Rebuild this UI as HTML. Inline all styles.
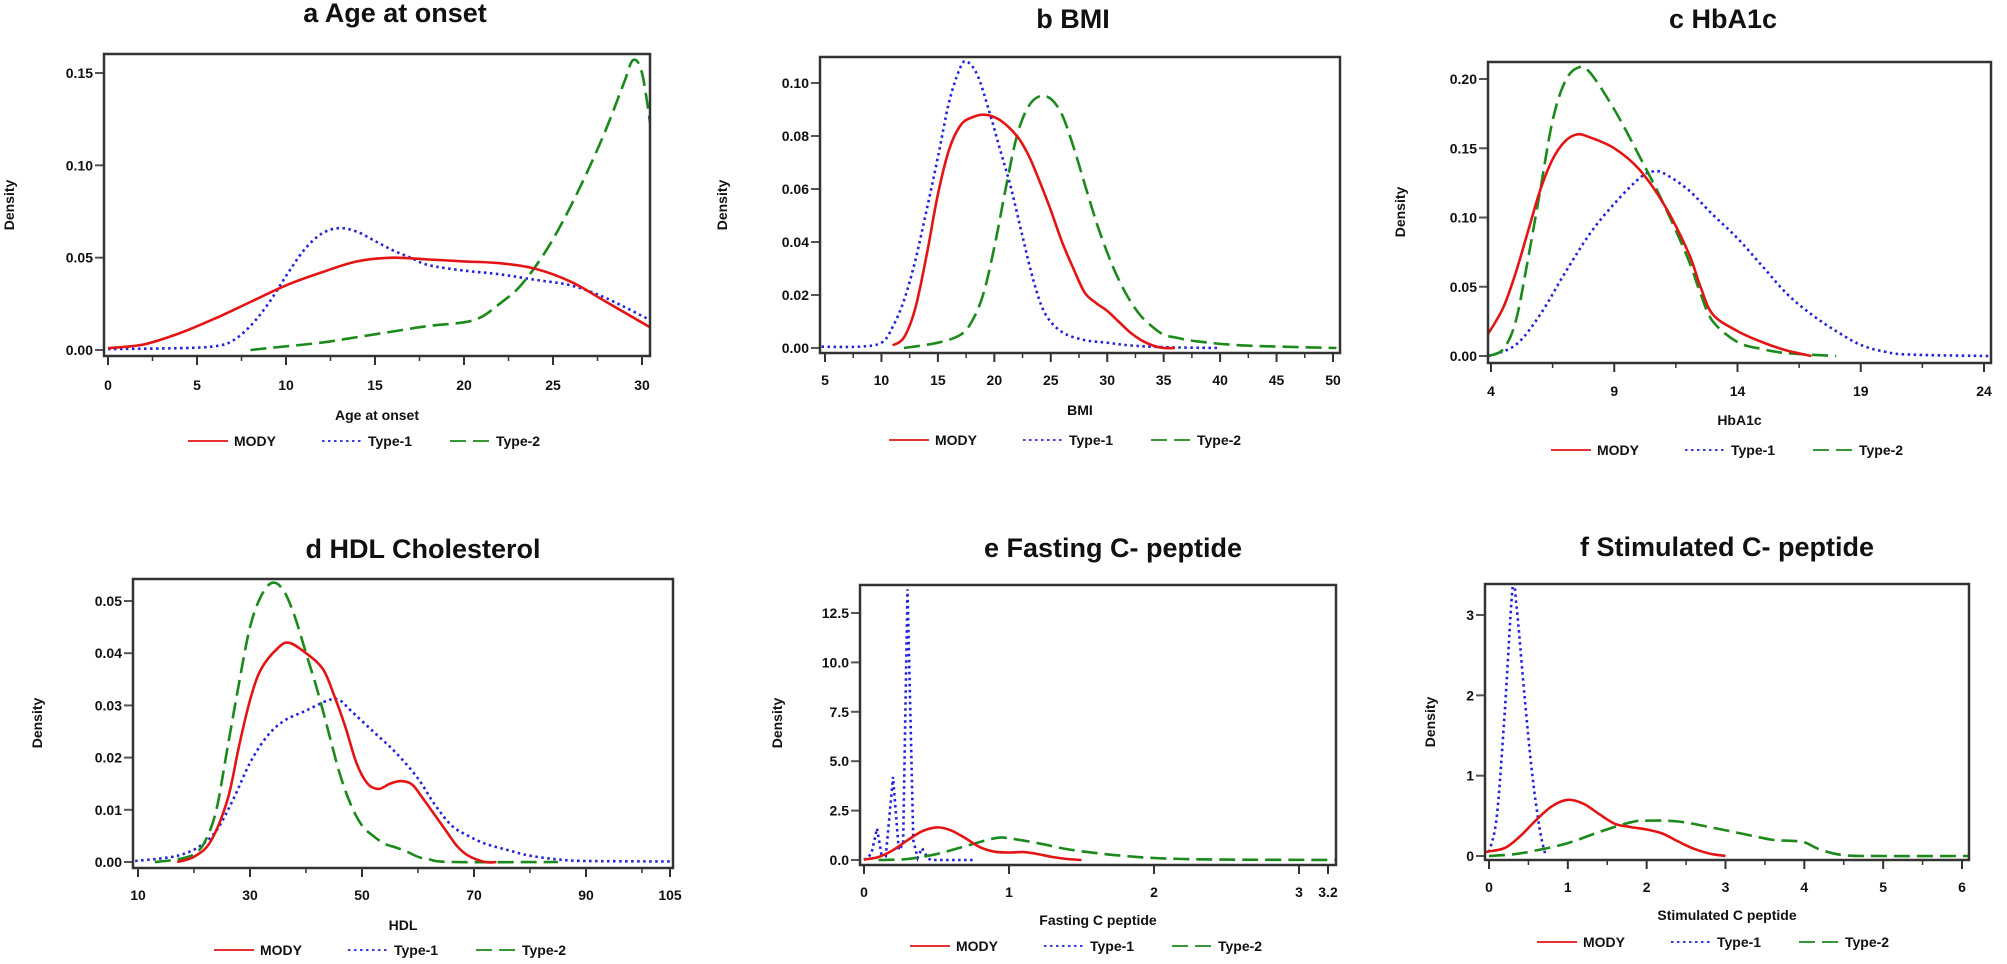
<!DOCTYPE html>
<html><head><meta charset="utf-8"><style>
html,body{margin:0;padding:0;background:#fff;}
svg{display:block;}
text{font-family:"Liberation Sans",Arial,sans-serif;font-weight:bold;fill:#111;}
</style></head><body>
<svg id="s" width="2007" height="964" viewBox="0 0 2007 964" xmlns="http://www.w3.org/2000/svg"></svg>
<script>
const P=[
{box:[104,54,650,356],xm:[0,108,30,642],ym:[350,73,0.15],yt:[[0,"0.00"],[0.05,"0.05"],[0.10,"0.10"],[0.15,"0.15"]],xt:[0,5,10,15,20,25,30],mn:2.5,xr:[0,30],
 title:"a Age at onset",tx:395,ty:22,xl:"Age at onset",xly:415,lby:385,lg:[378,441],dx:14,dy:205,
 red:[[0,.001],[2,.003],[4,.009],[6,.017],[8,.026],[10,.035],[12,.042],[14,.048],[16,.050],[18,.049],[20,.048],[22,.047],[24,.044],[26,.037],[28,.026],[30.5,.012]],
 blue:[[0,.0005],[4,.001],[6,.002],[7,.005],[8,.013],[9,.025],[10,.040],[11,.054],[12,.063],[13,.066],[14,.064],[15,.059],[16,.054],[17,.050],[18,.046],[20,.043],[22,.041],[24,.038],[26,.035],[28,.028],[30.5,.016]],
 green:[[8,0],[10,.002],[12,.004],[14,.007],[16,.010],[18,.013],[20,.015],[21,.018],[22,.025],[23,.033],[24,.045],[25,.060],[26,.078],[27,.098],[28,.12],[29,.145],[29.5,.157],[30,.15],[30.5,.12]]},
{box:[820,57,1340,353],xm:[5,825,50,1333],ym:[348,83,0.10],yt:[[0,"0.00"],[.02,"0.02"],[.04,"0.04"],[.06,"0.06"],[.08,"0.08"],[.10,"0.10"]],xt:[5,10,15,20,25,30,35,40,45,50],mn:2.5,xr:[5,50],
 title:"b BMI",tx:1073,ty:28,xl:"BMI",xly:410,lby:380,lg:[1079,440],dx:727,dy:205,
 blue:[[4.7,.0005],[8,.0005],[10,.002],[11,.008],[12,.018],[13,.033],[14,.052],[15,.072],[16,.093],[17,.106],[17.6,.108],[18.5,.103],[19.5,.090],[20.5,.075],[21.5,.060],[22.5,.042],[23.5,.025],[24.5,.013],[26,.006],[28,.003],[30,.002],[32,.001],[35,.0003],[40,0]],
 red:[[11,.001],[12,.004],[13,.015],[14,.035],[15,.058],[16,.075],[17,.084],[18,.087],[19.2,.088],[20.5,.086],[22,.080],[23,.073],[24,.063],[25,.052],[26,.040],[27,.030],[28,.021],[29,.017],[30,.014],[31,.010],[32,.006],[33,.003],[34,.001],[35,0],[36,0]],
 green:[[12,0],[15,.002],[17,.005],[18,.010],[19,.020],[20,.038],[21,.060],[22,.080],[23,.091],[24,.095],[25,.094],[26,.088],[27,.076],[28,.062],[29,.048],[30,.036],[31,.026],[32,.018],[33,.012],[34,.008],[35,.005],[36,.004],[38,.0025],[42,.001],[50.3,0]]},
{box:[1488,62,1991,363],xm:[4,1491,24,1984],ym:[356,79,0.20],yt:[[0,"0.00"],[.05,"0.05"],[.10,"0.10"],[.15,"0.15"],[.20,"0.20"]],xt:[4,9,14,19,24],mn:2.5,xr:[4,24],
 title:"c HbA1c",tx:1723,ty:28,xl:"HbA1c",xly:420,lby:391,lg:[1741,450],dx:1405,dy:212,
 red:[[3.85,.015],[4.5,.035],[5,.06],[5.5,.09],[6,.12],[6.5,.142],[7,.155],[7.5,.16],[8,.158],[9,.15],[10,.135],[11,.11],[12,.075],[12.5,.05],[13,.03],[14,.018],[15,.01],[16,.004],[17,0]],
 green:[[3.9,0],[4.5,.005],[5,.025],[5.5,.07],[6,.12],[6.5,.17],[7,.198],[7.5,.208],[8,.205],[9,.178],[10,.145],[11,.11],[12,.07],[12.5,.045],[13,.025],[14,.01],[15,.005],[16,.002],[18,0]],
 blue:[[3.9,0],[5,.008],[6,.03],[7,.06],[8,.088],[9,.11],[10,.128],[10.5,.133],[11,.132],[12,.12],[13,.102],[14,.085],[15,.065],[16,.045],[17,.03],[18,.018],[19,.008],[20,.003],[21,.001],[24.2,0]]},
{box:[133,579,673,868],xm:[10,138,105,670],ym:[862,601,0.05],yt:[[0,"0.00"],[.01,"0.01"],[.02,"0.02"],[.03,"0.03"],[.04,"0.04"],[.05,"0.05"]],xt:[10,30,50,70,90,105],mn:10,xr:[10,105],
 title:"d HDL Cholesterol",tx:423,ty:558,xl:"HDL",xly:925,lby:895,lg:[404,950],dx:42,dy:723,
 red:[[17,0],[20,.001],[23,.004],[26,.012],[28,.022],[30,.031],[32,.037],[35,.041],[37,.042],[40,.040],[43,.037],[45,.032],[47,.026],[49,.019],[51,.015],[53,.014],[55,.015],[57,.0155],[59,.0148],[61,.012],[63,.009],[65,.006],[67,.003],[69,.0012],[72,0],[74,0]],
 green:[[13,0],[17,.0005],[20,.0015],[22,.004],[24,.010],[26,.022],[28,.034],[30,.045],[32,.051],[34,.0535],[36,.052],[38,.047],[40,.040],[42,.033],[44,.025],[46,.017],[48,.011],[50,.007],[52,.005],[54,.0035],[56,.0028],[58,.002],[60,.001],[62,.0005],[66,0],[85,0]],
 blue:[[9.5,.0002],[15,.0008],[18,.0015],[21,.003],[24,.006],[27,.012],[30,.019],[33,.024],[36,.027],[40,.029],[44,.031],[46,.031],[48,.029],[52,.025],[56,.021],[60,.016],[63,.011],[66,.007],[69,.005],[72,.0035],[76,.0023],[80,.0012],[85,.0005],[90,.0002],[106,.0001]]},
{box:[860,585,1336,865],xm:[0,864,3,1299],ym:[860,613,12.5],yt:[[0,"0.0"],[2.5,"2.5"],[5,"5.0"],[7.5,"7.5"],[10,"10.0"],[12.5,"12.5"]],xt:[0,1,2,3,3.2],mn:null,xr:[0,3.2],
 title:"e Fasting C- peptide",tx:1113,ty:557,xl:"Fasting C peptide",xly:920,lby:892,lg:[1100,946],dx:782,dy:723,lin:true,
 blue:[[0,0],[0.05,.3],[0.09,1.6],[0.12,0.3],[0.15,0.2],[0.2,4.2],[0.24,0.5],[0.27,0.8],[0.3,13.7],[0.34,1.0],[0.37,0.1],[0.4,0.6],[0.44,0.1],[0.46,0],[0.75,0]],
 red:[[0,.02],[0.1,.15],[0.2,.5],[0.3,1.0],[0.4,1.45],[0.5,1.65],[0.6,1.5],[0.7,1.1],[0.8,0.65],[0.9,0.42],[1.0,0.38],[1.1,0.4],[1.2,0.3],[1.3,0.15],[1.4,0.05],[1.5,0]],
 green:[[0.1,0],[0.3,.05],[0.5,.3],[0.7,.7],[0.9,1.1],[1.0,1.1],[1.2,0.85],[1.4,0.55],[1.6,0.35],[1.8,0.2],[2.0,0.1],[2.2,0.05],[2.5,0.02],[3.3,0]]},
{box:[1485,584,1969,860],xm:[0,1489,6,1962],ym:[856,615,3],yt:[[0,"0"],[1,"1"],[2,"2"],[3,"3"]],xt:[0,1,2,3,4,5,6],mn:0.5,xr:[0,6],
 title:"f Stimulated C- peptide",tx:1727,ty:556,xl:"Stimulated C peptide",xly:915,lby:887,lg:[1727,942],dx:1435,dy:722,
 blue:[[0,.05],[0.1,.5],[0.2,1.8],[0.3,3.35],[0.35,3.1],[0.45,2.0],[0.55,1.0],[0.65,0.3],[0.72,0]],
 red:[[-0.05,.05],[0.2,.1],[0.4,.25],[0.6,.45],[0.8,.62],[1.0,.7],[1.2,.65],[1.4,.52],[1.6,.4],[1.8,.36],[2.0,.33],[2.2,.28],[2.4,.18],[2.6,.09],[2.8,.03],[3.0,0]],
 green:[[0,0],[0.3,.02],[0.6,.07],[1.0,.16],[1.4,.3],[1.8,.42],[2.0,.44],[2.4,.43],[2.8,.36],[3.2,.28],[3.6,.2],[3.8,.19],[4.0,.17],[4.2,.08],[4.5,.01],[5,0],[6.1,0]]}
];
const ST={red:'stroke="#e41414" stroke-width="2.6"',blue:'stroke="#2222dd" stroke-width="2.6" stroke-dasharray="2.5,3.5"',green:'stroke="#1b8a1b" stroke-width="2.6" stroke-dasharray="16,7"'};
let o='';
P.forEach((p,i)=>{
 const X=v=>p.xm[1]+(v-p.xm[0])*(p.xm[3]-p.xm[1])/(p.xm[2]-p.xm[0]);
 const Y=v=>p.ym[0]-v*(p.ym[0]-p.ym[1])/p.ym[2];
 const [l,t,r,b]=p.box;
 o+=`<clipPath id="c${i}"><rect x="${l}" y="${t}" width="${r-l}" height="${b-t}"/></clipPath>`;
 o+=`<text x="${p.tx}" y="${p.ty}" font-size="27" text-anchor="middle">${p.title}</text>`;
 o+=`<text transform="translate(${p.dx},${p.dy}) rotate(-90)" font-size="14" text-anchor="middle">Density</text>`;
 p.yt.forEach(([v,s])=>{const y=Y(v);o+=`<line x1="${l-9}" x2="${l}" y1="${y}" y2="${y}" stroke="#555" stroke-width="2"/><text x="${l-11}" y="${y+5}" font-size="14" text-anchor="end">${s}</text>`;});
 p.xt.forEach(v=>{const x=X(v);o+=`<line x1="${x}" x2="${x}" y1="${b}" y2="${b+9}" stroke="#333" stroke-width="2"/><text x="${x}" y="${p.lby+5}" font-size="14" text-anchor="middle">${v}</text>`;});
 if(p.mn){for(let v=p.xr[0];v<=p.xr[1]+1e-9;v+=p.mn){const x=X(v);o+=`<line x1="${x}" x2="${x}" y1="${b}" y2="${b+5}" stroke="#333" stroke-width="1.5"/>`;}}
 o+=`<text x="${(l+r)/2}" y="${p.xly+5}" font-size="14" text-anchor="middle">${p.xl}</text>`;
 ['blue','green','red'].forEach(k=>{
  const pts=p[k].map(([a,c])=>[X(a),Y(c)]);let d='M'+pts[0][0].toFixed(1)+','+pts[0][1].toFixed(1);
  if(p.lin||false&&k==='blue'){}
  if(p.lin&&k==='blue'){for(let j=1;j<pts.length;j++)d+='L'+pts[j][0].toFixed(1)+','+pts[j][1].toFixed(1);}
  else{for(let j=0;j<pts.length-1;j++){const p0=pts[Math.max(0,j-1)],p1=pts[j],p2=pts[j+1],p3=pts[Math.min(pts.length-1,j+2)];
   const c1=[p1[0]+(p2[0]-p0[0])/6,p1[1]+(p2[1]-p0[1])/6],c2=[p2[0]-(p3[0]-p1[0])/6,p2[1]-(p3[1]-p1[1])/6];
   d+=`C${c1[0].toFixed(1)},${c1[1].toFixed(1)} ${c2[0].toFixed(1)},${c2[1].toFixed(1)} ${p2[0].toFixed(1)},${p2[1].toFixed(1)}`;}}
  o+=`<path d="${d}" fill="none" ${ST[k]} clip-path="url(#c${i})"/>`;
 });
 o+=`<rect x="${l}" y="${t}" width="${r-l}" height="${b-t}" fill="none" stroke="#333" stroke-width="2.5"/>`;
 // legend
 const [cx,ly]=p.lg; let x=cx-190;
 [['red','MODY',50],['blue','Type-1',44],['green','Type-2',46]].forEach(([k,s,w])=>{
  o+=`<line x1="${x}" x2="${x+40}" y1="${ly}" y2="${ly}" ${ST[k].replace('2.6','1.8')}/>`;
  o+=`<text x="${x+46}" y="${ly+5}" font-size="14">${s}</text>`; x+=46+w+38;
 });
});
document.getElementById('s').innerHTML=o;
</script>
</body></html>
